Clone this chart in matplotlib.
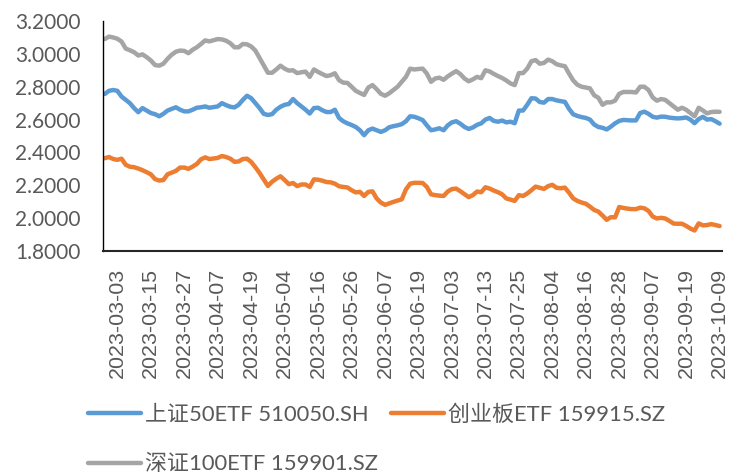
import matplotlib
matplotlib.use('Agg')
import matplotlib.pyplot as plt
import pandas as pd

# trading days (SSE calendar) from 2023-02-28 to 2023-10-09
holidays = ['2023-04-05', '2023-05-01', '2023-05-02', '2023-05-03',
            '2023-06-22', '2023-06-23', '2023-09-29', '2023-10-02',
            '2023-10-03', '2023-10-04', '2023-10-05', '2023-10-06']
days = pd.bdate_range('2023-02-28', '2023-10-09')
days = days[~days.isin(pd.to_datetime(holidays))]
dates = [d.strftime('%Y-%m-%d') for d in days]

names = ['上证50ETF 510050.SH', '创业板ETF 159915.SZ', '深证100ETF 159901.SZ']
colors = ['#5B9BD5', '#ED7D31', '#A5A5A5']

sh50 = [2.756, 2.775, 2.78, 2.775, 2.74, 2.72, 2.70, 2.67, 2.645, 2.67,
        2.655, 2.64, 2.633, 2.62, 2.635, 2.655, 2.665, 2.675, 2.66, 2.65,
        2.65, 2.66, 2.672, 2.675, 2.68, 2.672, 2.676, 2.68, 2.70, 2.688,
        2.678, 2.674, 2.69, 2.72, 2.745, 2.73, 2.70, 2.67, 2.635, 2.628,
        2.633, 2.66, 2.678, 2.69, 2.695, 2.725, 2.70, 2.68, 2.66, 2.637,
        2.67, 2.672, 2.657, 2.646, 2.646, 2.66, 2.61, 2.59, 2.577, 2.567,
        2.555, 2.535, 2.505, 2.535, 2.545, 2.535, 2.525, 2.535, 2.553, 2.56,
        2.565, 2.572, 2.59, 2.62, 2.617, 2.608, 2.597, 2.565, 2.535, 2.54,
        2.547, 2.535, 2.565, 2.583, 2.59, 2.575, 2.555, 2.543, 2.552, 2.568,
        2.577, 2.60, 2.61, 2.592, 2.587, 2.594, 2.583, 2.587, 2.578, 2.655,
        2.655, 2.69, 2.73, 2.728, 2.707, 2.703, 2.725, 2.725, 2.717, 2.712,
        2.708, 2.665, 2.632, 2.622, 2.615, 2.61, 2.60, 2.57, 2.555, 2.55,
        2.54, 2.557, 2.577, 2.592, 2.598, 2.596, 2.595, 2.595, 2.64, 2.648,
        2.635, 2.617, 2.612, 2.618, 2.617, 2.612, 2.609, 2.607, 2.609, 2.613,
        2.60, 2.578, 2.603, 2.617, 2.60, 2.603, 2.59, 2.575]

cyb = [2.365, 2.372, 2.36, 2.355, 2.362, 2.325, 2.313, 2.31, 2.302, 2.292,
       2.28, 2.267, 2.238, 2.229, 2.232, 2.267, 2.277, 2.288, 2.308, 2.308,
       2.30, 2.314, 2.33, 2.358, 2.37, 2.36, 2.363, 2.367, 2.378, 2.372,
       2.362, 2.343, 2.345, 2.36, 2.362, 2.342, 2.31, 2.275, 2.235, 2.196,
       2.222, 2.24, 2.255, 2.232, 2.207, 2.214, 2.195, 2.205, 2.205, 2.19,
       2.236, 2.234, 2.228, 2.22, 2.218, 2.21, 2.194, 2.19, 2.187, 2.17,
       2.157, 2.16, 2.135, 2.16, 2.163, 2.12, 2.095, 2.081, 2.09, 2.099,
       2.107, 2.115, 2.175, 2.21, 2.215, 2.215, 2.214, 2.19, 2.145, 2.14,
       2.137, 2.135, 2.162, 2.177, 2.18, 2.164, 2.146, 2.128, 2.14, 2.162,
       2.158, 2.188, 2.18, 2.168, 2.158, 2.145, 2.12, 2.113, 2.105, 2.14,
       2.135, 2.15, 2.17, 2.192, 2.185, 2.178, 2.195, 2.203, 2.185, 2.182,
       2.186, 2.155, 2.12, 2.105, 2.095, 2.088, 2.07, 2.05, 2.04, 2.016,
       1.99, 2.006, 2.005, 2.068, 2.062, 2.058, 2.055, 2.055, 2.064, 2.06,
       2.044, 2.01, 1.998, 2.002, 1.998, 1.983, 1.967, 1.966, 1.966, 1.953,
       1.937, 1.925, 1.968, 1.956, 1.958, 1.964, 1.958, 1.952]

sz100 = [3.09, 3.105, 3.10, 3.092, 3.075, 3.032, 3.022, 3.01, 2.99, 2.997,
         2.98, 2.96, 2.932, 2.928, 2.94, 2.97, 2.995, 3.013, 3.02, 3.018,
         3.004, 3.025, 3.04, 3.06, 3.082, 3.076, 3.083, 3.09, 3.088, 3.08,
         3.065, 3.04, 3.04, 3.06, 3.058, 3.045, 3.02, 2.975, 2.93, 2.885,
         2.885, 2.905, 2.928, 2.91, 2.898, 2.90, 2.883, 2.888, 2.892, 2.86,
         2.905, 2.89, 2.877, 2.865, 2.87, 2.882, 2.84, 2.825, 2.823, 2.80,
         2.775, 2.762, 2.75, 2.795, 2.81, 2.785, 2.757, 2.745, 2.76, 2.78,
         2.80, 2.83, 2.86, 2.91, 2.905, 2.908, 2.91, 2.88, 2.83, 2.85,
         2.855, 2.842, 2.863, 2.88, 2.895, 2.877, 2.85, 2.833, 2.845, 2.86,
         2.852, 2.90, 2.893, 2.878, 2.865, 2.853, 2.838, 2.82, 2.81, 2.883,
         2.883, 2.91, 2.955, 2.962, 2.94, 2.945, 2.965, 2.955, 2.937, 2.93,
         2.925, 2.88, 2.838, 2.812, 2.80, 2.795, 2.79, 2.748, 2.733, 2.69,
         2.705, 2.705, 2.715, 2.757, 2.768, 2.768, 2.768, 2.765, 2.80, 2.80,
         2.78, 2.735, 2.715, 2.725, 2.72, 2.70, 2.68, 2.66, 2.672, 2.66,
         2.64, 2.62, 2.672, 2.655, 2.638, 2.646, 2.648, 2.647]

yticks = [1.8, 2.0, 2.2, 2.4, 2.6, 2.8, 3.0, 3.2]

fig = plt.figure(figsize=(7.29, 4.73), dpi=100)
ax = fig.add_axes([0.1409, 0.4693, 0.8491, 0.4863])

x = list(range(len(dates)))
lines = []
for vals, name, c in zip([sh50, cyb, sz100], names, colors):
    ln, = ax.plot(x, vals, color=c, lw=3.2, label=name,
                  solid_joinstyle='round', solid_capstyle='round')
    lines.append(ln)

ax.set_xlim(-0.5, len(dates) - 0.5)
ax.set_ylim(1.8, 3.2)
ax.set_yticks(yticks)
ax.set_yticklabels(['%.4f' % v for v in yticks], family='Lato',
                   fontsize=15, color='#595959')
tick_pos = x[3::8]
ax.set_xticks(tick_pos)
ax.set_xticklabels([dates[i] for i in tick_pos], rotation=90,
                   family='Liberation Sans', fontsize=15.4, color='#595959')
ax.tick_params(axis='y', length=0, pad=16)
ax.tick_params(axis='x', length=0, pad=12)

for s in ['top', 'right']:
    ax.spines[s].set_visible(False)
ax.spines['left'].set_color('black')
ax.spines['left'].set_linewidth(1.0)
ax.spines['bottom'].set_color('#262626')
ax.spines['bottom'].set_linewidth(1.5)

# legend in row order: row 1 = 上证, 创业板; row 2 = 深证
order = [0, 2, 1]
leg = fig.legend([lines[i] for i in order], [names[i] for i in order],
                 loc='upper left', bbox_to_anchor=(88 / 729, 1 - 404 / 473),
                 ncol=2, frameon=False, borderpad=0, borderaxespad=0,
                 handlelength=2.4, handletextpad=0.2, columnspacing=0.6,
                 labelspacing=1.35,
                 prop={'family': ['Lato', 'Noto Sans CJK SC'], 'size': 15.8})
for t in leg.get_texts():
    t.set_color('#595959')

fig.savefig('out.png', dpi=100)
